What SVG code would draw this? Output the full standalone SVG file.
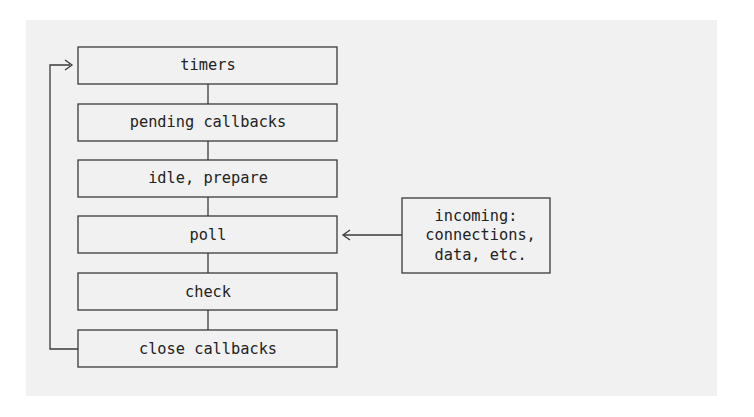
<svg xmlns="http://www.w3.org/2000/svg" width="754" height="417" viewBox="0 0 754 417">
<style>
.box{fill:none;stroke:#3a3a3a;stroke-width:1.3}
.ln{fill:none;stroke:#3a3a3a;stroke-width:1.3}
.t{font-family:"DejaVu Sans Mono","Liberation Mono",monospace;font-size:15.3px;fill:#222;text-anchor:middle;dominant-baseline:central}
.s{text-anchor:start}
</style>
<rect x="26" y="20" width="691" height="376" fill="#f1f1f1"/>
<g id="connectors">
<line class="ln" x1="208" y1="84" x2="208" y2="104"/>
<line class="ln" x1="208" y1="141" x2="208" y2="160"/>
<line class="ln" x1="208" y1="197" x2="208" y2="216"/>
<line class="ln" x1="208" y1="253" x2="208" y2="273"/>
<line class="ln" x1="208" y1="310" x2="208" y2="330"/>
<polyline class="ln" points="78,349 50,349 50,65 70,65"/>
<polyline class="ln" points="65,60 72,65 65,70"/>
<line class="ln" x1="344" y1="235" x2="402" y2="235"/>
<polyline class="ln" points="350,230 343,235 350,240"/>
</g>
<g id="timers"><rect class="box" x="78" y="47" width="259" height="37"/><text class="t" x="208" y="65">timers</text></g>
<g id="pending"><rect class="box" x="78" y="104" width="259" height="37"/><text class="t" x="208" y="122">pending callbacks</text></g>
<g id="idle"><rect class="box" x="78" y="160" width="259" height="37"/><text class="t" x="208" y="178">idle, prepare</text></g>
<g id="poll"><rect class="box" x="78" y="216" width="259" height="37"/><text class="t" x="208" y="235">poll</text></g>
<g id="check"><rect class="box" x="78" y="273" width="259" height="37"/><text class="t" x="208" y="292">check</text></g>
<g id="close"><rect class="box" x="78" y="330" width="259" height="37"/><text class="t" x="208" y="349">close callbacks</text></g>
<g id="incoming"><rect class="box" x="402" y="198" width="148" height="75"/>
<text class="t s" x="434.5" y="216">incoming:</text>
<text class="t s" x="425.3" y="235">connections,</text>
<text class="t s" x="434.5" y="255">data, etc.</text></g>
</svg>
